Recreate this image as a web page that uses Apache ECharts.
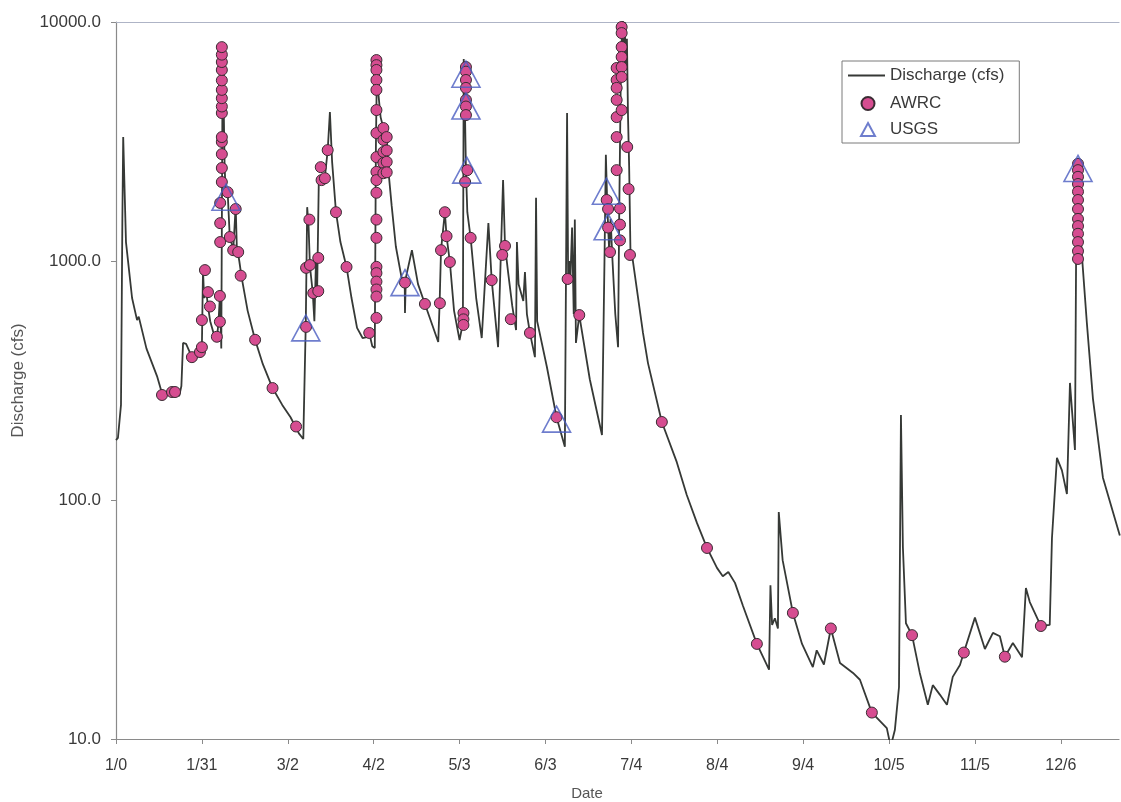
<!DOCTYPE html>
<html>
<head>
<meta charset="utf-8">
<script src="https://cdn.jsdelivr.net/npm/echarts@6/dist/echarts.min.js"></script>
<style>
html,body{margin:0;padding:0;background:#fff;}
#chart{width:1121px;height:802px;}
</style>
</head>
<body>
<div id="chart"></div>
<script>
// x tick labels (Excel day serials 0,31,62,...)
const xTickLabels = ['1/0','1/31','3/2','4/2','5/3','6/3','7/4','8/4','9/4','10/5','11/5','12/6'];

// Continuous discharge hydrograph (day of year, cfs)
const dischargeDays = [0,0.7,1.8,2.3,2.6,3.0,3.6,5.8,7.6,8.2,11,14.8,16.6,19,20.6,22.8,23.6,24.2,25.3,27.4,28.6,29.5,30.3,31,31.4,31.8,32.5,33.2,34,35.2,36.4,37.0,37.5,38.0,38.3,38.5,38.8,39.2,39.6,40.3,41,42.3,43.2,43.6,44.5,45.3,47.5,50.2,53,56.5,60,63,66,67.6,68.2,68.5,69,69.5,70,71,71.6,72.2,72.6,73.2,74.2,75.4,76.4,77.2,78,79.4,81,83.2,85,87,89,90.5,91.4,92.5,93.4,93.8,94.2,94.7,95.5,96.5,97.7,98.3,99.5,101,103,104.2,104.3,104.6,106.8,109,111.5,116.3,116.8,117.3,118.7,119.3,120.5,122,124,125.2,125.5,125.9,126.3,126.8,128,130,132,134.4,135.6,137.9,139.7,140.4,141.5,143,144.4,144.7,145.3,147,147.6,148.3,149.4,151.2,151.6,152,155.5,159,162,162.8,163.2,163.6,164,164.6,165.2,165.6,166,167.2,171,175.4,176.3,176.8,177.2,177.6,178,178.5,179.2,180.2,181.2,181.6,182.2,182.8,183.2,183.6,184,184.4,184.8,185.2,185.7,186.5,190.2,192,197,202.4,206,209.7,213.3,216.9,219,221,223.4,226.3,231.3,235.7,236.2,236.8,237.8,238.9,239.2,240.6,244.3,247.6,251.5,252.9,255.5,258,261.3,266,268.5,272.8,278.2,279.6,281.1,282.6,283.3,284,285.1,287.3,290.1,293,294.8,297.4,299.9,302,304.6,306,310,313.6,316.5,319,320.8,323.7,327,328.4,329.8,332.4,333.8,337,337.8,339.6,341.4,343.2,344.3,346.1,346.6,347.2,348.5,350.4,352.6,356.2,362.3];
const dischargeValues = [178,182,250,1500,3300,2200,1200,700,566,585,430,330,280,282,285,272,300,454,450,396,385,400,420,440,916,700,760,645,560,500,470,557,714,430,425,7900,5000,2500,1900,1950,1300,1100,1700,1150,1000,860,620,468,370,294,250,222,190,180,180,550,1680,1400,950,740,560,1030,760,2180,2200,2250,2900,4200,2600,1600,1200,944,700,525,476,480,500,440,433,3000,6900,5000,4000,3600,3300,2400,1700,1150,860,812,606,850,1110,800,661,458,666,1110,1600,1270,990,620,467,550,7000,4500,2400,1600,1250,700,476,1440,832,436,2180,1156,900,650,514,1200,800,680,900,600,500,396,1840,560,361,222,167,4160,800,1000,841,1380,600,1490,454,594,320,187,1000,2780,1900,1400,1100,1500,1000,600,436,1500,6000,11500,8000,10000,6500,8500,4000,2500,1060,1010,500,374,212,144,105,80,63,52,48,50,45,36,25,19.5,44,30,32,29,89,56,33.7,25,20,23.5,20.5,29,20.8,18.9,17.7,12.9,11.1,9.3,10.9,16.5,227,63.6,30.5,27.2,18.9,13.9,16.8,15.3,13.9,18.2,20.4,23,32.2,23.8,27.8,26.9,22.1,25.2,22,42.8,37.4,32.2,29.7,30,69,150,133,106,309,162,1500,2550,1100,551,265,124,71];

// AWRC samples
const awrcDays = [16.6,20.2,21.3,27.4,30.3,31,32.1,33.2,33.9,31.0,36.4,37.5,37.5,37.6,37.6,37.6,38.2,38.2,38.2,38.2,38.2,38.2,38.2,38.2,38.2,38.2,38.2,38.2,38.2,38.2,40.3,43.2,41.1,42.3,44.1,45,50.2,56.5,65,68.6,68.6,69.8,70,71.2,73,73,73.9,74.2,75.4,76.4,79.4,83.2,91.4,94,94,94,94,94,94,94,94,94,94,94,94,94,94,94,94,94,94,94,96.5,96.5,96.5,96.5,96.5,97.7,97.7,97.7,97.7,104.3,111.5,116.9,117.3,118.7,119.3,120.5,126.3,126.3,126.3,126.3,126.3,126.3,126.3,126.8,126,125.4,125.4,125.4,128,135.6,140.4,139.4,142.5,149.4,159,163,167.2,177.1,177.6,177.6,178.3,180.7,180.7,180.7,180.7,180.7,180.7,180.7,181.9,181.9,181.9,182.5,182.5,182.5,182.5,182.5,182.5,182.5,182.5,184.5,185,185.5,197,213.3,231.3,244.3,258,272.8,287.3,306,320.8,333.8,347.2,347.2,347.2,347.2,347.2,347.2,347.2,347.2,347.2,347.2,347.2,347.2,347.2];
const awrcValues = [275,283,283,396,416,436,916,741,645,566,482,557,714,1200,1440,1750,2140,2450,2800,3150,3300,4160,4430,4800,5200,5700,6300,6800,7300,7850,1940,1650,1260,1110,1090,868,468,294,203,936,530,1490,962,734,748,1030,2470,2180,2220,2910,1600,944,500,6930,6600,6300,5720,5200,4280,3430,2720,2360,2180,1930,1490,1250,945,890,820,760,710,578,3600,3210,2860,2570,2330,3300,2900,2600,2350,812,661,666,1110,1600,1270,990,6480,6200,5720,5300,4720,4430,4080,2400,2140,606,570,540,1250,832,1156,1060,571,500,222,841,594,1800,1650,1380,1090,6420,5720,5300,4720,4000,3300,2400,1660,1420,1220,10200,9530,8990,7860,7140,6480,5890,4280,3000,2000,1060,212,63,25,33.7,29,12.9,27.2,23,22.1,29.7,2550,2400,2250,2100,1950,1800,1650,1500,1400,1300,1200,1100,1020];

// USGS measurements
const usgsDays = [39.7,68.5,104.3,126.3,126.3,126.6,159,177,177.6,347.2];
const usgsValues = [1850,525,812,6050,4450,2400,218,1960,1390,2440];

const zip = (a, b) => a.map((d, i) => [d, b[i]]);

const FONT = "'Liberation Sans', Arial, sans-serif";
const chart = echarts.init(document.getElementById('chart'), null, {renderer: 'canvas'});

chart.setOption({
  animation: false,
  backgroundColor: '#ffffff',
  textStyle: {fontFamily: FONT},
  grid: {left: 116, top: 22, right: 2, bottom: 63, containLabel: false, outerBoundsMode: 'none'},
  legend: [
    {
      data: [{name: 'Discharge (cfs)', icon: 'rect'}],
      left: 842, top: 61, orient: 'vertical',
      padding: [6, 15, 59, 6],
      borderColor: '#7a7a7a', borderWidth: 1,
      itemWidth: 37, itemHeight: 2, itemGap: 5,
      textStyle: {fontFamily: FONT, fontSize: 17, color: '#3a3a3a'},
      selectedMode: false
    },
    {
      data: ['AWRC', 'USGS'],
      left: 860, top: 95, orient: 'vertical',
      padding: 0,
      itemWidth: 14, itemHeight: 13, itemGap: 9,
      textStyle: {fontFamily: FONT, fontSize: 17, color: '#3a3a3a', padding: [0, 0, 0, 10]},
      selectedMode: false
    }
  ],
  xAxis: [
    {
      type: 'value', min: 0, max: 362, interval: 31,
      position: 'bottom',
      name: 'Date', nameLocation: 'middle', nameGap: 47,
      nameTextStyle: {fontFamily: FONT, fontSize: 15, color: '#555', padding: [0, 61, 0, 0]},
      axisLine: {show: true, onZero: false, lineStyle: {color: '#8a8a8a', width: 1.2}},
      axisTick: {show: true, length: 5, lineStyle: {color: '#8a8a8a'}},
      axisLabel: {
        fontFamily: FONT, fontSize: 16, color: '#3a3a3a', margin: 19,
        showMaxLabel: false,
        formatter: v => (Math.abs(v % 31) < 1e-6 ? (xTickLabels[Math.round(v / 31)] || '') : '')
      },
      splitLine: {show: false}
    },
    {
      type: 'value', min: 0, max: 362, position: 'top',
      axisLine: {show: true, onZero: false, lineStyle: {color: '#aeb4c6', width: 1.2}},
      axisTick: {show: false}, axisLabel: {show: false}, splitLine: {show: false}
    }
  ],
  yAxis: {
    type: 'log', logBase: 10, min: 10, max: 10000,
    name: 'Discharge (cfs)', nameLocation: 'middle', nameGap: 89, nameRotate: 90,
    nameTextStyle: {fontFamily: FONT, fontSize: 17, color: '#555'},
    axisLine: {show: true, lineStyle: {color: '#8a8a8a', width: 1.2}},
    axisTick: {show: true, length: 5, lineStyle: {color: '#8a8a8a'}},
    axisLabel: {fontFamily: FONT, fontSize: 17, color: '#3a3a3a', margin: 15,
      formatter: v => Number(v).toFixed(1)},
    splitLine: {show: false},
    minorTick: {show: false}
  },
  series: [
    {
      name: 'Discharge (cfs)', type: 'line', xAxisIndex: 0,
      data: zip(dischargeDays, dischargeValues),
      symbol: 'none', showSymbol: false,
      lineStyle: {color: '#363936', width: 1.8},
      itemStyle: {color: '#363936'},
      z: 2
    },
    {
      name: 'AWRC', type: 'scatter', xAxisIndex: 0,
      data: zip(awrcDays, awrcValues),
      symbol: 'circle', symbolSize: 11,
      itemStyle: {color: '#d64d91', borderColor: '#3a2c33', borderWidth: 1, opacity: 1},
      z: 3
    },
    {
      name: 'USGS', type: 'scatter', xAxisIndex: 0,
      data: zip(usgsDays, usgsValues),
      symbol: 'triangle', symbolSize: [28, 26], symbolKeepAspect: true,
      itemStyle: {color: 'rgba(255,255,255,0)', borderColor: '#4a5cc0', borderWidth: 1.6},
      z: 4
    }
  ]
});
</script>
</body>
</html>
